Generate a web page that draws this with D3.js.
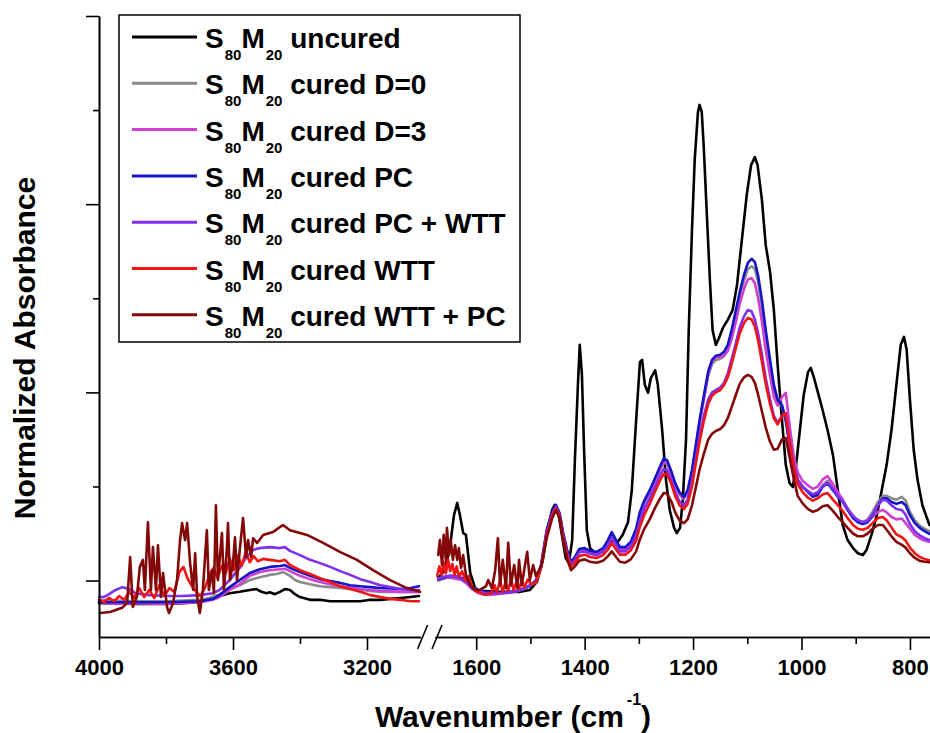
<!DOCTYPE html>
<html>
<head>
<meta charset="utf-8">
<script src="https://cdn.jsdelivr.net/npm/d3@7"></script>
<style>
  body { margin: 0; background: #fff; }
  svg text { font-family: "Liberation Sans", Arial, sans-serif; font-weight: bold; fill: #000; }
</style>
</head>
<body>
<svg id="chart" width="930" height="733"></svg>
<script>
// ---- series ----
const seriesSuffix = [" uncured", " cured D=0", " cured D=3", " cured PC", " cured PC + WTT", " cured WTT", " cured WTT + PC"];
const seriesColors = ["#000000", "#8a8a8a", "#d040d0", "#1414c8", "#7f2fef", "#f01414", "#840808"];

// ---- ticks ----
const yMajorTicks = [0, 0.4, 0.8, 1.2];
const yMinorTicks = [0.2, 0.6, 1.0];
const xLeftMajor = [4000, 3600, 3200];
const xLeftMinor = [3800, 3400];
const xRightMajor = [1600, 1400, 1200, 1000, 800];
const xRightMinor = [1500, 1300, 1100, 900];

// ---- uncured: [wavenumber, absorbance] ----
const blackLeft = [[4000,-0.048],[3950,-0.048],[3900,-0.050],[3850,-0.050],[3800,-0.050],[3750,-0.048],[3700,-0.046],[3670,-0.041],[3640,-0.033],[3610,-0.027],
  [3580,-0.024],[3550,-0.020],[3530,-0.018],[3515,-0.024],[3500,-0.027],[3490,-0.025],[3475,-0.029],[3460,-0.024],[3445,-0.018],[3430,-0.020],
  [3415,-0.029],[3400,-0.035],[3370,-0.041],[3340,-0.041],[3310,-0.044],[3280,-0.044],[3250,-0.044],[3220,-0.044],[3190,-0.041],[3160,-0.041],
  [3130,-0.039],[3100,-0.037],[3070,-0.035],[3045,-0.033]];
const blackRight = [[1670,0.005],[1658,0.022],[1648,0.075],[1641,0.139],[1635,0.165],[1630,0.139],[1624,0.101],[1619,0.097],[1611,0.016],[1602,-0.016],
  [1593,-0.022],[1556,-0.024],[1519,-0.024],[1501,-0.020],[1488,-0.003],[1477,0.044],[1468,0.112],[1460,0.150],[1455,0.161],[1449,0.146],
  [1442,0.097],[1435,0.048],[1429,0.037],[1423,0.086],[1418,0.256],[1412,0.427],[1409,0.501],[1405,0.437],[1401,0.277],[1396,0.107],
  [1390,0.069],[1381,0.059],[1372,0.061],[1361,0.069],[1350,0.086],[1339,0.082],[1330,0.097],[1320,0.124],[1313,0.192],[1305,0.341],
  [1298,0.464],[1294,0.469],[1289,0.416],[1283,0.399],[1278,0.430],[1270,0.447],[1265,0.416],[1257,0.320],[1250,0.214],[1243,0.150],
  [1235,0.112],[1230,0.101],[1224,0.112],[1219,0.171],[1213,0.299],[1208,0.532],[1202,0.745],[1197,0.894],[1191,0.996],[1188,1.011],
  [1184,0.996],[1180,0.915],[1175,0.788],[1169,0.639],[1164,0.532],[1158,0.501],[1152,0.516],[1145,0.537],[1136,0.554],[1127,0.575],
  [1119,0.628],[1110,0.724],[1101,0.820],[1093,0.883],[1086,0.900],[1081,0.883],[1073,0.809],[1066,0.713],[1058,0.656],[1051,0.575],
  [1044,0.458],[1036,0.341],[1029,0.246],[1022,0.207],[1016,0.199],[1011,0.235],[1003,0.320],[996,0.394],[988,0.443],[983,0.452],
  [977,0.431],[970,0.401],[961,0.362],[952,0.320],[942,0.267],[933,0.192],[924,0.118],[915,0.086],[905,0.069],[896,0.058],
  [887,0.054],[880,0.065],[871,0.097],[861,0.139],[852,0.192],[843,0.246],[834,0.320],[825,0.416],[817,0.501],[811,0.518],
  [806,0.490],[800,0.384],[793,0.277],[786,0.214],[777,0.160],[764,0.118]];

// ---- cured, high-wavenumber window: [wavenumber, absorbance] ----
const grayLeft = [[4000,-0.041],[3900,-0.044],[3800,-0.044],[3700,-0.041],[3670,-0.037],[3640,-0.029],[3610,-0.018],[3580,-0.010],[3550,0.001],[3520,0.007],
  [3490,0.012],[3470,0.014],[3450,0.018],[3430,0.010],[3415,0.001],[3400,-0.003],[3370,-0.008],[3340,-0.012],[3310,-0.014],[3280,-0.016],
  [3250,-0.018],[3220,-0.020],[3190,-0.022],[3160,-0.024],[3100,-0.024],[3045,-0.024]];
const magentaLeft = [[4000,-0.046],[3950,-0.050],[3900,-0.048],[3800,-0.050],[3700,-0.046],[3660,-0.041],[3640,-0.035],[3610,-0.020],[3580,-0.008],[3550,0.010],
  [3520,0.018],[3490,0.022],[3460,0.024],[3445,0.025],[3430,0.020],[3400,0.010],[3370,0.003],[3340,-0.003],[3310,-0.008],[3280,-0.012],
  [3250,-0.015],[3220,-0.018],[3190,-0.020],[3160,-0.022],[3100,-0.024],[3045,-0.024]];
const blueLeft = [[4000,-0.046],[3900,-0.046],[3800,-0.046],[3700,-0.044],[3660,-0.039],[3640,-0.031],[3610,-0.014],[3580,0.001],[3550,0.016],[3520,0.024],
  [3490,0.029],[3460,0.031],[3445,0.033],[3430,0.027],[3400,0.018],[3370,0.010],[3340,0.003],[3310,-0.001],[3280,-0.005],[3250,-0.010],
  [3220,-0.012],[3190,-0.014],[3160,-0.016],[3130,-0.017],[3100,-0.018],[3070,-0.016],[3045,-0.012]];
const violetLeft = [[4000,-0.035],[3985,-0.035],[3970,-0.029],[3950,-0.020],[3930,-0.014],[3910,-0.018],[3890,-0.027],[3850,-0.031],[3800,-0.033],[3750,-0.033],
  [3700,-0.031],[3660,-0.027],[3640,-0.020],[3610,0.001],[3580,0.027],[3560,0.050],[3540,0.065],[3520,0.069],[3490,0.071],[3460,0.069],
  [3445,0.071],[3430,0.063],[3400,0.054],[3370,0.044],[3340,0.037],[3310,0.029],[3280,0.020],[3250,0.012],[3220,0.003],[3190,-0.003],
  [3160,-0.010],[3130,-0.014],[3100,-0.018],[3070,-0.020],[3045,-0.020]];
const redLeft = [[4000,-0.041],[3985,-0.046],[3970,-0.037],[3955,-0.044],[3940,-0.033],[3925,-0.041],[3910,-0.024],[3895,-0.037],[3880,-0.016],[3865,-0.035],
  [3850,-0.020],[3835,-0.037],[3820,-0.010],[3805,-0.033],[3790,-0.016],[3775,-0.024],[3760,0.018],[3748,0.029],[3736,0.005],[3724,-0.010],
  [3710,-0.024],[3697,-0.033],[3684,-0.016],[3670,0.012],[3658,0.027],[3646,0.005],[3634,0.031],[3622,0.014],[3610,0.048],[3598,0.022],
  [3586,0.054],[3574,0.031],[3562,0.061],[3550,0.039],[3538,0.052],[3526,0.041],[3510,0.046],[3490,0.044],[3460,0.041],[3445,0.044],
  [3430,0.033],[3400,0.022],[3370,0.014],[3340,0.005],[3310,-0.003],[3280,-0.012],[3250,-0.018],[3220,-0.024],[3190,-0.031],[3160,-0.035],
  [3130,-0.039],[3100,-0.041],[3070,-0.044],[3045,-0.044]];
const darkredLeft = [[3997,-0.069],[3967,-0.067],[3931,-0.058],[3916,-0.048],[3907,0.050],[3899,-0.056],[3887,-0.035],[3878,0.029],[3869,0.044],[3863,-0.020],
  [3854,0.124],[3845,-0.020],[3839,0.071],[3830,-0.020],[3824,0.075],[3815,-0.035],[3809,0.016],[3797,-0.056],[3791,-0.069],[3779,-0.048],
  [3767,0.001],[3758,0.086],[3752,0.122],[3743,0.086],[3737,0.122],[3728,0.037],[3719,-0.020],[3713,0.058],[3707,-0.035],[3699,-0.069],
  [3690,-0.020],[3678,0.107],[3672,-0.020],[3663,0.022],[3657,-0.027],[3651,0.160],[3645,0.001],[3633,0.101],[3627,-0.020],[3618,0.071],
  [3615,0.122],[3609,0.001],[3600,0.037],[3594,0.092],[3588,0.001],[3579,0.071],[3570,0.133],[3561,0.050],[3555,0.086],[3546,0.050],
  [3540,0.090],[3528,0.080],[3510,0.097],[3481,0.103],[3451,0.118],[3430,0.107],[3379,0.097],[3331,0.080],[3281,0.061],[3230,0.044],
  [3182,0.022],[3131,0.001],[3081,-0.016],[3042,-0.024]];

// ---- cured, 1676-1495 cm-1: [wavenumber, absorbance] ----
const grayLow = [[1670,0.000],[1660,0.004],[1648,0.008],[1638,0.007],[1628,0.004],[1618,-0.002],[1608,-0.014],[1598,-0.022],[1585,-0.026],[1570,-0.027],
  [1555,-0.027],[1540,-0.026],[1525,-0.023],[1510,-0.017],[1500,-0.011]];
const magentaLow = [[1670,0.004],[1660,0.008],[1648,0.006],[1638,0.004],[1628,0.002],[1618,-0.006],[1608,-0.018],[1598,-0.026],[1585,-0.030],[1570,-0.030],
  [1555,-0.028],[1540,-0.026],[1525,-0.022],[1510,-0.016],[1500,-0.010]];
const blueLow = [[1670,0.002],[1660,0.006],[1648,0.010],[1638,0.009],[1628,0.006],[1618,0.000],[1608,-0.012],[1598,-0.020],[1585,-0.024],[1570,-0.026],
  [1555,-0.026],[1540,-0.025],[1525,-0.022],[1510,-0.016],[1500,-0.010]];
const violetLow = [[1670,0.003],[1660,0.008],[1648,0.010],[1638,0.008],[1628,0.004],[1618,-0.003],[1608,-0.015],[1598,-0.022],[1585,-0.026],[1570,-0.027],
  [1555,-0.027],[1540,-0.025],[1525,-0.022],[1510,-0.016],[1500,-0.010]];
const redLow = [[1672,0.010],[1668,0.030],[1664,0.012],[1660,0.040],[1656,0.015],[1652,0.045],[1648,0.020],[1644,0.035],[1640,0.012],[1636,0.030],
  [1632,0.008],[1626,0.020],[1620,0.000],[1614,0.010],[1608,-0.012],[1600,-0.022],[1590,-0.028],[1580,-0.030],[1572,-0.026],[1566,-0.010],
  [1562,-0.026],[1556,0.000],[1551,-0.024],[1546,-0.004],[1541,-0.022],[1536,0.004],[1531,-0.020],[1526,-0.004],[1521,-0.018],[1516,0.000],
  [1511,-0.014],[1505,0.002],[1498,-0.008]];
const darkredLow = [[1670,0.054],[1667,0.086],[1663,0.033],[1660,0.097],[1656,0.044],[1654,0.112],[1650,0.054],[1647,0.086],[1643,0.044],[1639,0.075],
  [1635,0.044],[1632,0.069],[1628,0.027],[1624,0.054],[1619,0.012],[1611,-0.010],[1602,-0.020],[1593,-0.020],[1582,-0.012],[1578,0.001],
  [1571,-0.016],[1565,0.022],[1560,0.090],[1556,-0.010],[1551,0.044],[1545,-0.016],[1541,0.080],[1536,-0.010],[1530,0.033],[1524,-0.016],
  [1521,0.044],[1516,-0.010],[1510,0.033],[1506,0.061],[1501,0.001],[1495,0.033]];

// ---- cured, 1490-764 cm-1 on a shared wavenumber grid ----
const gridRight = [1490,1480,1470,1460,1453,1446,1440,1432,1425,1418,
  1410,1400,1390,1378,1366,1357,1350,1342,1335,1325,
  1315,1305,1298,1290,1280,1270,1260,1254,1248,1240,
  1233,1225,1217,1210,1202,1195,1188,1180,1172,1165,
  1158,1150,1143,1136,1129,1121,1114,1106,1099,1092,
  1086,1080,1073,1066,1058,1051,1044,1036,1029,1022,
  1014,1007,998,988,979,970,961,952,942,933,
  924,915,905,896,887,878,869,859,850,843,
  834,825,815,808,800,791,782,773,764];
const grayRight = [-0.002,0.035,0.105,0.143,0.158,0.141,0.101,0.061,0.037,0.048,
  0.065,0.067,0.061,0.059,0.067,0.082,0.097,0.082,0.069,0.069,
  0.080,0.106,0.141,0.165,0.186,0.212,0.238,0.250,0.248,0.226,
  0.201,0.182,0.173,0.186,0.228,0.280,0.333,0.386,0.436,0.460,
  0.469,0.471,0.477,0.492,0.522,0.564,0.602,0.638,0.662,0.668,
  0.662,0.634,0.584,0.522,0.462,0.410,0.380,0.370,0.338,0.286,
  0.238,0.214,0.199,0.190,0.180,0.186,0.203,0.212,0.197,0.182,
  0.171,0.154,0.137,0.128,0.124,0.130,0.146,0.167,0.180,0.180,
  0.175,0.172,0.178,0.170,0.146,0.128,0.117,0.110,0.105];
const magentaRight = [-0.002,0.033,0.103,0.141,0.156,0.139,0.099,0.059,0.035,0.046,
  0.063,0.065,0.059,0.057,0.065,0.080,0.095,0.080,0.067,0.067,
  0.078,0.105,0.141,0.166,0.188,0.214,0.240,0.252,0.250,0.228,
  0.203,0.184,0.175,0.188,0.230,0.282,0.335,0.388,0.440,0.465,
  0.474,0.475,0.478,0.488,0.512,0.550,0.588,0.620,0.640,0.643,
  0.632,0.600,0.550,0.490,0.435,0.390,0.372,0.390,0.399,0.330,
  0.262,0.230,0.212,0.202,0.195,0.200,0.215,0.222,0.205,0.188,
  0.172,0.152,0.135,0.126,0.124,0.126,0.135,0.146,0.150,0.145,
  0.135,0.130,0.132,0.122,0.110,0.097,0.090,0.085,0.082];
const blueRight = [0.000,0.035,0.107,0.146,0.161,0.143,0.103,0.063,0.039,0.050,
  0.067,0.069,0.063,0.061,0.069,0.086,0.103,0.086,0.071,0.071,
  0.082,0.110,0.146,0.170,0.192,0.218,0.245,0.259,0.256,0.232,
  0.207,0.188,0.178,0.192,0.235,0.288,0.341,0.394,0.445,0.469,
  0.478,0.480,0.486,0.501,0.532,0.575,0.613,0.650,0.675,0.684,
  0.677,0.648,0.596,0.532,0.469,0.416,0.384,0.373,0.341,0.288,
  0.239,0.214,0.199,0.188,0.178,0.182,0.199,0.207,0.192,0.178,
  0.167,0.150,0.133,0.124,0.120,0.124,0.139,0.160,0.175,0.175,
  0.167,0.163,0.167,0.160,0.139,0.122,0.112,0.105,0.099];
const violetRight = [-0.003,0.030,0.100,0.140,0.156,0.139,0.097,0.058,0.033,0.044,
  0.060,0.062,0.057,0.054,0.061,0.075,0.090,0.076,0.062,0.062,
  0.072,0.095,0.128,0.152,0.175,0.200,0.226,0.237,0.235,0.213,
  0.188,0.168,0.160,0.172,0.210,0.258,0.305,0.350,0.385,0.400,
  0.405,0.410,0.420,0.440,0.470,0.505,0.538,0.562,0.575,0.572,
  0.555,0.525,0.480,0.430,0.385,0.350,0.335,0.350,0.352,0.300,
  0.245,0.215,0.200,0.190,0.183,0.188,0.200,0.208,0.195,0.180,
  0.168,0.152,0.137,0.128,0.124,0.127,0.140,0.160,0.172,0.170,
  0.160,0.152,0.150,0.140,0.120,0.105,0.096,0.090,0.086];
const redRight = [-0.005,0.028,0.098,0.138,0.154,0.136,0.094,0.053,0.030,0.038,
  0.052,0.055,0.050,0.048,0.054,0.066,0.080,0.066,0.055,0.055,
  0.064,0.085,0.115,0.140,0.163,0.190,0.215,0.227,0.226,0.205,
  0.180,0.160,0.152,0.163,0.200,0.248,0.295,0.340,0.376,0.393,
  0.400,0.405,0.415,0.432,0.460,0.495,0.525,0.548,0.558,0.555,
  0.540,0.510,0.465,0.418,0.375,0.345,0.332,0.350,0.356,0.295,
  0.240,0.205,0.188,0.176,0.170,0.175,0.183,0.186,0.172,0.160,
  0.148,0.133,0.118,0.110,0.108,0.112,0.122,0.133,0.135,0.128,
  0.113,0.098,0.092,0.085,0.070,0.058,0.050,0.046,0.043];
const darkredRight = [0.010,0.030,0.090,0.132,0.150,0.132,0.088,0.045,0.022,0.030,
  0.042,0.045,0.040,0.038,0.042,0.052,0.062,0.050,0.040,0.038,
  0.045,0.062,0.088,0.110,0.130,0.155,0.176,0.186,0.185,0.168,
  0.145,0.128,0.122,0.130,0.160,0.198,0.236,0.270,0.300,0.312,
  0.318,0.322,0.330,0.345,0.368,0.395,0.418,0.432,0.437,0.433,
  0.420,0.395,0.360,0.325,0.295,0.278,0.280,0.300,0.303,0.262,
  0.215,0.180,0.164,0.152,0.146,0.150,0.158,0.160,0.148,0.135,
  0.124,0.112,0.100,0.094,0.094,0.100,0.110,0.118,0.118,0.108,
  0.094,0.082,0.076,0.070,0.058,0.048,0.042,0.040,0.039];

// ---- assemble ----
const onGrid = vals => gridRight.slice(0, vals.length).map((w, i) => [w, vals[i]]);
const series = [
  { left: blackLeft,   right: blackRight },
  { left: grayLeft,    right: grayLow.concat(onGrid(grayRight)) },
  { left: magentaLeft, right: magentaLow.concat(onGrid(magentaRight)) },
  { left: blueLeft,    right: blueLow.concat(onGrid(blueRight)) },
  { left: violetLeft,  right: violetLow.concat(onGrid(violetRight)) },
  { left: redLeft,     right: redLow.concat(onGrid(redRight)) },
  { left: darkredLeft, right: darkredLow.concat(onGrid(darkredRight)) }
].map((s, i) => ({ ...s, color: seriesColors[i], suffix: seriesSuffix[i] }));

// ---- scales ----
const svg = d3.select("#chart");
const y = d3.scaleLinear().domain([-0.12, 1.2]).range([637, 16]);
const xL = d3.scaleLinear().domain([4000, 3040]).range([99, 420.6]);
const xR = d3.scaleLinear().domain([1676, 763]).range([435, 930]);
const x0 = 99, yBase = 637;

// ---- curves ----
const plot = svg.append("g").attr("fill", "none").attr("stroke-width", 2.6)
  .attr("stroke-linejoin", "round").attr("stroke-linecap", "round");
const lineL = d3.line().x(d => xL(d[0])).y(d => y(d[1]));
const lineR = d3.line().x(d => xR(d[0])).y(d => y(d[1]));
series.forEach(s => {
  plot.append("path").attr("d", lineL(s.left)).attr("stroke", s.color);
  plot.append("path").attr("d", lineR(s.right)).attr("stroke", s.color);
});

// ---- axes ----
function styleAxis(g) {
  g.attr("font-size", null).attr("font-family", null);
  g.selectAll("path, line").attr("stroke", "#000").attr("stroke-width", 1.6);
  g.selectAll("text").attr("font-size", 22).attr("fill", "#000");
}
function xAxis(scale, major, minor) {
  svg.append("g").attr("transform", `translate(0,${yBase})`)
    .call(d3.axisBottom(scale).tickValues(major).tickSize(13).tickSizeOuter(0).tickPadding(9).tickFormat(d3.format("d")))
    .call(styleAxis);
  svg.append("g").attr("transform", `translate(0,${yBase})`)
    .call(d3.axisBottom(scale).tickValues(minor).tickSize(7).tickSizeOuter(0).tickFormat(""))
    .call(styleAxis);
}
xAxis(xL, xLeftMajor, xLeftMinor);
xAxis(xR, xRightMajor, xRightMinor);

svg.append("g").attr("transform", `translate(${x0},0)`)
  .call(d3.axisLeft(y).tickValues(yMajorTicks).tickSize(13).tickSizeOuter(0).tickFormat(""))
  .call(styleAxis);
svg.append("g").attr("transform", `translate(${x0},0)`)
  .call(d3.axisLeft(y).tickValues(yMinorTicks).tickSize(6).tickSizeOuter(0).tickFormat(""))
  .call(styleAxis);

// axis break marks
[xL.range()[1] + 2, xR.range()[0] + 2].forEach(cx => {
  svg.append("line").attr("x1", cx - 5).attr("y1", yBase + 12).attr("x2", cx + 5).attr("y2", yBase - 12)
    .attr("stroke", "#000").attr("stroke-width", 1.6);
});

// ---- axis titles ----
const xt = svg.append("text").attr("x", 513).attr("y", 727).attr("text-anchor", "middle").attr("font-size", 30);
xt.append("tspan").text("Wavenumber (cm");
xt.append("tspan").attr("font-size", 16).attr("dx", 3).attr("dy", -22).text("-1");
xt.append("tspan").attr("dy", 22).text(")");

svg.append("text").attr("transform", "translate(35,348) rotate(-90)")
  .attr("text-anchor", "middle").attr("font-size", 30).text("Normalized Absorbance");

// ---- legend ----
const legend = svg.append("g");
legend.append("rect").attr("x", 119).attr("y", 15).attr("width", 401).attr("height", 327)
  .attr("fill", "#fff").attr("stroke", "#000").attr("stroke-width", 1.5);
series.forEach((s, i) => {
  const ly = 37 + i * 46.3;
  legend.append("line").attr("x1", 132).attr("x2", 197).attr("y1", ly).attr("y2", ly)
    .attr("stroke", s.color).attr("stroke-width", 3);
  const t = legend.append("text").attr("x", 205).attr("y", ly + 11).attr("font-size", 28);
  t.append("tspan").text("S");
  t.append("tspan").attr("font-size", 15).attr("dx", 1).attr("dy", 12).text("80");
  t.append("tspan").attr("dy", -12).text("M");
  t.append("tspan").attr("font-size", 15).attr("dx", 1).attr("dy", 12).text("20");
  t.append("tspan").attr("dy", -12).text(s.suffix);
});
</script>
</body>
</html>
